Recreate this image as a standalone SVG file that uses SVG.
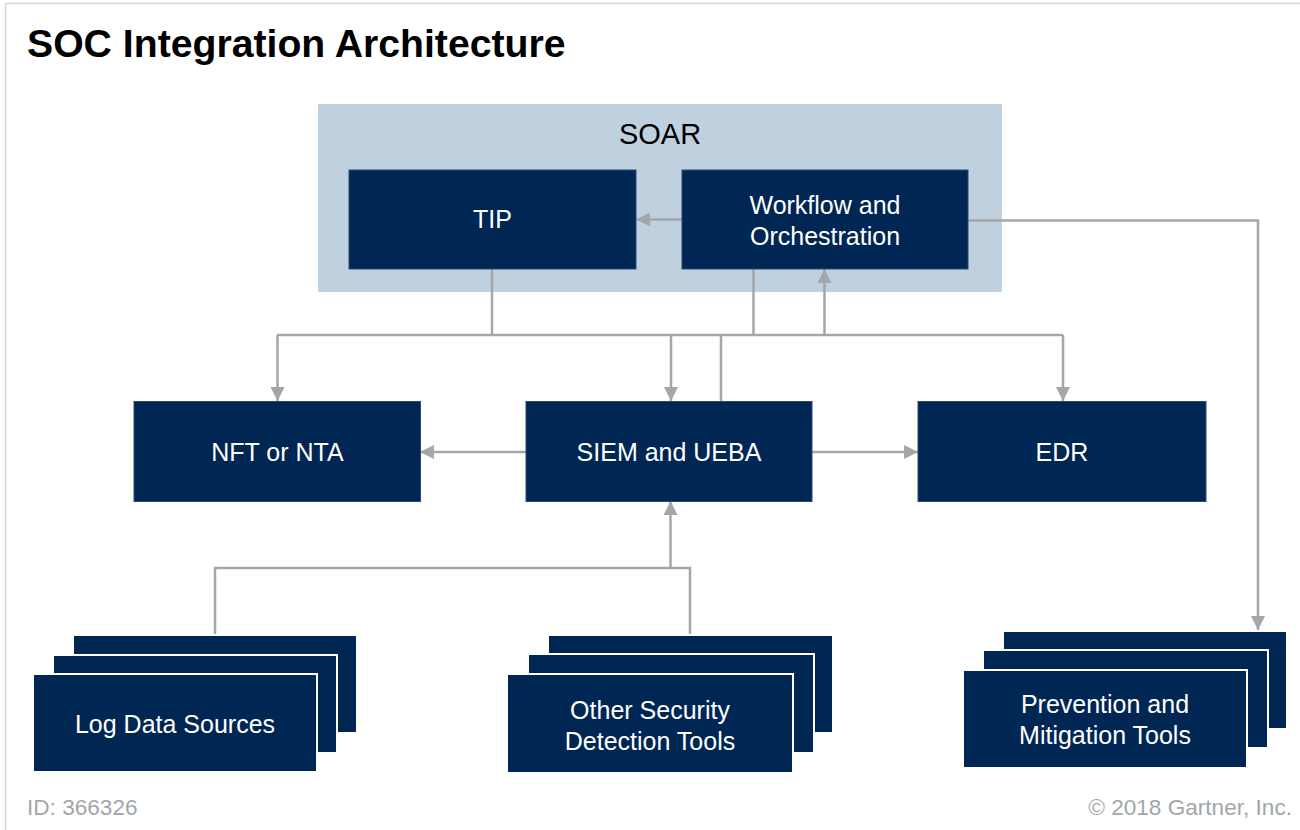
<svg xmlns="http://www.w3.org/2000/svg" width="1300" height="830" viewBox="0 0 1300 830">
<style>
  .box { fill: #002654; stroke: #2a4a74; stroke-width: 1; }
  .stk { fill: #002654; stroke: #ffffff; stroke-width: 2; }
  .lbl { font-family: "Liberation Sans", Arial, sans-serif; font-size: 25px; fill: #ffffff; text-anchor: middle; }
  .conn { fill: none; stroke: #a3a7a9; stroke-width: 2.5; }
  .foot { font-family: "Liberation Sans", Arial, sans-serif; font-size: 22.6px; fill: #a3a6a8; }
</style>
<defs>
  <marker id="arr" viewBox="0 0 14 14" refX="14" refY="7" markerWidth="14" markerHeight="14" markerUnits="userSpaceOnUse" orient="auto">
    <path d="M0,0 L14,7 L0,14 z" fill="#a3a7a9"/>
  </marker>
</defs>
<rect x="0" y="0" width="1300" height="830" fill="#ffffff"/>
<path d="M5.5,830 V3.5 H1300" fill="none" stroke="#d6d6d6" stroke-width="1.5"/>
<text x="27" y="57" font-family="'Liberation Sans', Arial, sans-serif" font-size="39.2" font-weight="bold" fill="#000000">SOC Integration Architecture</text>

<g id="soar">
  <rect x="318" y="104" width="684" height="188" fill="#bfd0de"/>
  <text x="660" y="144" font-family="'Liberation Sans', Arial, sans-serif" font-size="29" fill="#000000" text-anchor="middle">SOAR</text>
</g>

<g id="connectors">
  <path class="conn" d="M682,219.5 H636" marker-end="url(#arr)"/>
  <path class="conn" d="M968,220.5 H1258 V630" marker-end="url(#arr)"/>
  <path class="conn" d="M492,269 V335"/>
  <path class="conn" d="M277,335 H1063"/>
  <path class="conn" d="M277.5,335 V401" marker-end="url(#arr)"/>
  <path class="conn" d="M671,335 V401" marker-end="url(#arr)"/>
  <path class="conn" d="M721,401 V335"/>
  <path class="conn" d="M753.5,269 V335"/>
  <path class="conn" d="M824.5,335 V269" marker-end="url(#arr)"/>
  <path class="conn" d="M1063,335 V401" marker-end="url(#arr)"/>
  <path class="conn" d="M526,452 H420" marker-end="url(#arr)"/>
  <path class="conn" d="M812,452 H918" marker-end="url(#arr)"/>
  <path class="conn" d="M215,635 V568 H690 V635"/>
  <path class="conn" d="M670.5,568 V501" marker-end="url(#arr)"/>
</g>

<g id="tip">
  <rect class="box" x="349" y="170" width="287" height="99"/>
  <text class="lbl" x="492.5" y="228">TIP</text>
</g>
<g id="workflow">
  <rect class="box" x="682" y="170" width="286" height="99"/>
  <text class="lbl" x="825" y="214">Workflow and</text>
  <text class="lbl" x="825" y="245">Orchestration</text>
</g>
<g id="nft">
  <rect class="box" x="134" y="401.5" width="286.5" height="100"/>
  <text class="lbl" x="277.5" y="461">NFT or NTA</text>
</g>
<g id="siem">
  <rect class="box" x="526" y="401.5" width="286" height="100"/>
  <text class="lbl" x="669" y="461">SIEM and UEBA</text>
</g>
<g id="edr">
  <rect class="box" x="918" y="401.5" width="288" height="100"/>
  <text class="lbl" x="1062" y="461">EDR</text>
</g>

<g id="log">
  <rect class="stk" x="73" y="635" width="284" height="98"/>
  <rect class="stk" x="53" y="655" width="284" height="98"/>
  <rect class="stk" x="33" y="674" width="284" height="98"/>
  <text class="lbl" x="175" y="733">Log Data Sources</text>
</g>
<g id="other">
  <rect class="stk" x="548" y="635" width="285" height="98"/>
  <rect class="stk" x="528" y="654" width="286" height="99"/>
  <rect class="stk" x="507" y="674" width="286" height="99"/>
  <text class="lbl" x="650" y="719">Other Security</text>
  <text class="lbl" x="650" y="750">Detection Tools</text>
</g>
<g id="prevention">
  <rect class="stk" x="1003" y="631" width="284" height="98"/>
  <rect class="stk" x="983" y="650" width="285" height="98"/>
  <rect class="stk" x="963" y="670" width="284" height="98"/>
  <text class="lbl" x="1105" y="713">Prevention and</text>
  <text class="lbl" x="1105" y="744">Mitigation Tools</text>
</g>

<text class="foot" x="27" y="815">ID: 366326</text>
<text class="foot" x="1292" y="815" text-anchor="end">© 2018 Gartner, Inc.</text>
</svg>
